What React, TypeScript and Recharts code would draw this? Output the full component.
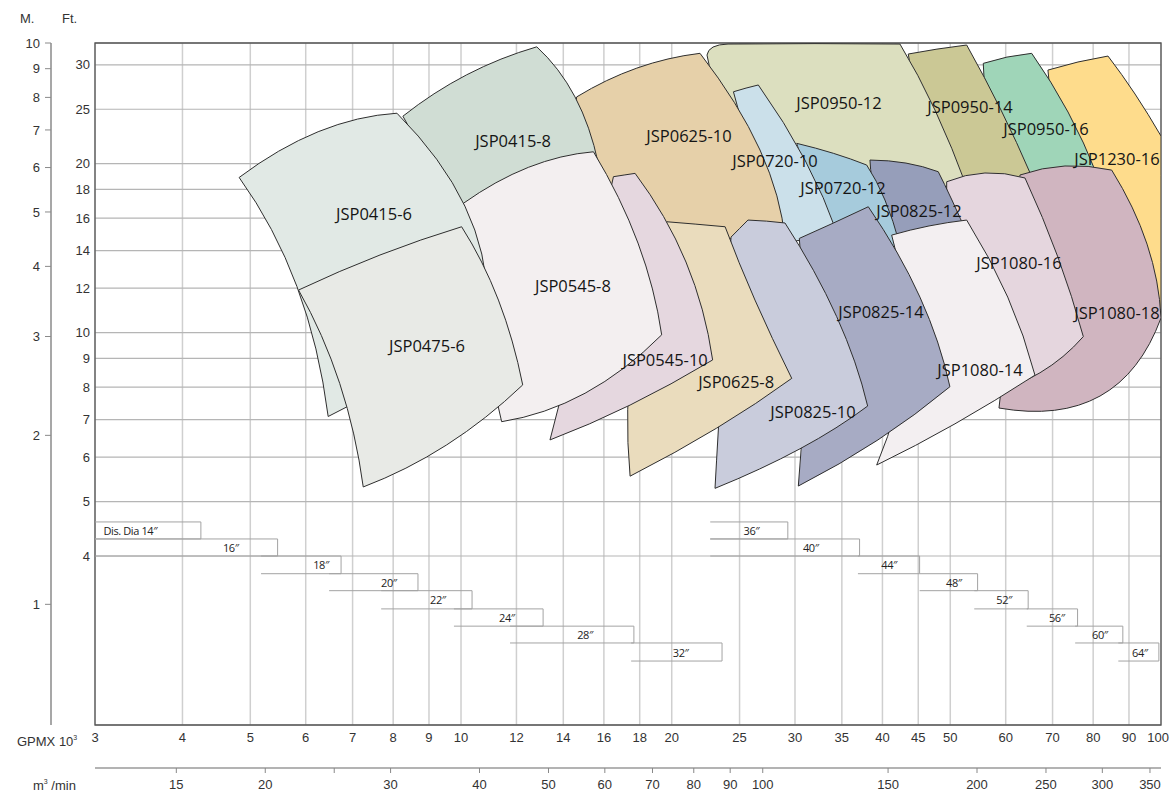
import React from 'react';
import { ScatterChart, Scatter, XAxis, YAxis, CartesianGrid, ReferenceArea, Customized } from 'recharts';

// ---------- axes ----------
const gpmTicks = [3, 4, 5, 6, 7, 8, 9, 10, 12, 14, 16, 18, 20, 25, 30, 35, 40, 45, 50, 60, 70, 80, 90, 100];
const ftTicks = [4, 5, 6, 7, 8, 9, 10, 12, 14, 16, 18, 20, 25, 30];
const meterTicks = [1, 2, 3, 4, 5, 6, 7, 8, 9, 10];
const m3Ticks = [15, 20, 25, 30, 40, 50, 60, 70, 80, 90, 100, 150, 200, 250, 300, 350];
const m3Unlabeled = [25];

const gpmDomain: [number, number] = [3, 100];
const ftDomain: [number, number] = [2.0, 32.81];
const meterDomain: [number, number] = [0.6096, 10.0];
const m3Domain: [number, number] = [11.53, 362.7];

// ---------- pump coverage outlines ----------
// [GPM x10^3, head ft]: corner, edge-middle, corner, edge-middle, ...
const JSP1230_16 = [[68.94, 29.36], [76.1, 30.35], [84.0, 31.1], [91.82, 26.61], [100, 22.4], [100, 16.0], [100, 10.97], [90.3, 12.16], [79.17, 13.47], [72.2, 20.3]];
const JSP0950_16 = [[55.73, 30.18], [60.25, 30.97], [65.35, 31.45], [73.65, 24.72], [81.03, 19.09], [72.44, 18.86], [64.98, 18.7], [57.91, 23.92]];
const JSP0950_14 = [[43.54, 31.36], [47.86, 32.0], [52.77, 32.54], [59.08, 24.92], [65.2, 19.09], [56.96, 18.32], [50.77, 17.95], [46.0, 23.92]];
const JSP0950_12 = [[22.46, 31.23], [22.91, 32.27], [24.07, 32.67], [32.04, 32.73], [42.37, 32.67], [47.55, 24.92], [52.99, 17.95], [39.67, 19.09], [29.51, 21.15], [24.23, 25.96]];
const JSP1080_18 = [[62.88, 19.09], [72.92, 19.81], [85.03, 19.48], [95.51, 14.38], [100, 10.62], [81.82, 7.71], [58.69, 7.34], [60.84, 11.43]];
const JSP1080_16 = [[49.41, 18.57], [56.04, 19.25], [63.93, 18.86], [71.23, 13.64], [77.45, 9.84], [67.14, 8.48], [56.04, 7.74], [50.77, 11.91]];
const JSP0825_12 = [[38.39, 20.3], [43.22, 20.05], [48.06, 19.35], [50.27, 17.23], [53.34, 14.62], [47.55, 14.32], [42.37, 14.32], [39.41, 17.23]];
const JSP0720_12 = [[30.17, 21.74], [34.03, 20.87], [37.98, 19.89], [40.33, 17.23], [42.37, 14.32], [38.14, 14.03], [34.22, 14.32], [31.73, 17.95]];
const JSP1080_14 = [[41.23, 14.92], [46.62, 15.49], [52.77, 15.87], [60.4, 11.57], [66.06, 8.4], [50.78, 6.88], [39.25, 5.81], [43.08, 9.31]];
const JSP0720_10 = [[24.5, 26.86], [25.54, 27.27], [26.59, 27.62], [31.0, 20.3], [34.55, 14.92], [31.52, 14.62], [28.84, 14.62], [26.3, 19.89]];
const JSP0825_14 = [[30.43, 14.72], [34.05, 15.68], [38.18, 16.76], [45.25, 11.57], [49.94, 8.01], [39.41, 6.44], [30.33, 5.33], [31.0, 8.94]];
const JSP0625_10 = [[14.63, 26.3], [17.83, 29.6], [21.95, 31.45], [26.74, 21.15], [29.03, 14.62], [22.83, 14.74], [18.02, 15.11], [15.04, 20.3]];
const JSP0825_10 = [[24.31, 14.8], [25.0, 15.33], [25.7, 15.87], [27.32, 15.8], [29.03, 15.68], [34.41, 10.68], [38.1, 7.4], [30.5, 6.21], [23.06, 5.28], [23.6, 8.58]];
const JSP0625_8 = [[19.68, 15.76], [21.6, 15.61], [23.84, 15.44], [26.3, 11.43], [29.68, 8.29], [23.19, 6.76], [17.44, 5.55], [17.61, 9.5]];
const JSP0545_10 = [[16.51, 18.96], [17.1, 19.09], [17.73, 19.22], [20.96, 13.36], [22.88, 8.94], [17.44, 7.43], [13.4, 6.44], [15.04, 11.43]];
const JSP0415_8 = [[8.26, 24.3], [10.19, 28.8], [12.83, 32.3], [14.55, 26.3], [15.71, 20.0], [12.72, 18.0], [10.3, 16.2], [9.03, 20.3]];
const JSP0545_8 = [[10.08, 17.0], [12.48, 19.7], [15.46, 21.0], [17.9, 14.44], [19.35, 9.91], [15.04, 7.8], [11.43, 6.94], [10.58, 10.97]];
const JSP0415_6 = [[4.82, 18.9], [6.25, 22.8], [8.1, 24.6], [10.13, 16.8], [10.9, 11.3], [8.6, 8.76], [6.46, 7.09], [5.83, 12.08]];
const JSP0475_6 = [[5.86, 11.91], [7.66, 13.75], [10.02, 15.44], [11.31, 11.43], [12.25, 8.07], [9.54, 6.31], [7.25, 5.31], [6.71, 8.12]];

// drawing order, back to front
const outlineNames = ['JSP1230-16', 'JSP0950-16', 'JSP0950-14', 'JSP0950-12', 'JSP1080-18', 'JSP1080-16', 'JSP0825-12', 'JSP0720-12', 'JSP1080-14', 'JSP0720-10', 'JSP0825-14', 'JSP0625-10', 'JSP0825-10', 'JSP0625-8', 'JSP0545-10', 'JSP0415-8', 'JSP0545-8', 'JSP0415-6', 'JSP0475-6'];
const outlines = [JSP1230_16, JSP0950_16, JSP0950_14, JSP0950_12, JSP1080_18, JSP1080_16, JSP0825_12, JSP0720_12, JSP1080_14, JSP0720_10, JSP0825_14, JSP0625_10, JSP0825_10, JSP0625_8, JSP0545_10, JSP0415_8, JSP0545_8, JSP0415_6, JSP0475_6];

// model labels
const labelNames = ['JSP0415-6', 'JSP0475-6', 'JSP0415-8', 'JSP0545-8', 'JSP0625-10', 'JSP0950-12', 'JSP0950-14', 'JSP0950-16', 'JSP1230-16', 'JSP0720-10', 'JSP0720-12', 'JSP0825-12', 'JSP1080-16', 'JSP1080-18', 'JSP0825-14', 'JSP1080-14', 'JSP0545-10', 'JSP0625-8', 'JSP0825-10'];
const labelQ = [7.51, 8.94, 11.87, 14.45, 21.17, 34.67, 53.34, 68.49, 86.52, 28.09, 35.13, 45.1, 62.67, 86.52, 39.8, 55.12, 19.57, 24.72, 31.83];
const labelH = [16.32, 9.47, 22.03, 12.11, 22.49, 25.75, 25.33, 23.15, 20.47, 20.3, 18.17, 16.53, 13.31, 10.84, 10.92, 8.61, 8.94, 8.17, 7.25];

// discharge diameter boxes
const diaLabels = ['Dis. Dia 14″', '16″', '18″', '20″', '22″', '24″', '28″', '32″', '36″', '40″', '44″', '48″', '52″', '56″', '60″', '64″'];
const diaFrom = [3, 3, 5.18, 6.48, 7.69, 9.77, 11.75, 17.5, 22.7, 22.7, 36.9, 45.2, 54.1, 64.3, 75.4, 86.9];
const diaTo = [4.25, 5.47, 6.74, 8.68, 10.37, 13.1, 17.66, 23.6, 29.3, 37.1, 45.2, 54.7, 64.6, 76.0, 88.2, 99.3];
const diaLabelAt = [3.37, 4.69, 6.31, 7.89, 9.27, 11.63, 15.04, 20.6, 26.0, 31.6, 40.9, 50.6, 59.7, 71.0, 81.8, 93.3];
const diaRow = [0, 1, 2, 3, 4, 5, 6, 7, 0, 1, 2, 3, 4, 5, 6, 7];
const diaRowHeads = [4.6, 4.29, 4.0, 3.72, 3.47, 3.22, 3.0, 2.8, 2.6];

// ---------- styles ----------
const FILLS: Record<string, string> = {
  'JSP0415-6': '#e1e9e5',
  'JSP0475-6': '#e8eae6',
  'JSP0415-8': '#d0ddd4',
  'JSP0545-8': '#f3eff0',
  'JSP0545-10': '#e5d7df',
  'JSP0625-10': '#e6d0a9',
  'JSP0625-8': '#eadcbd',
  'JSP0825-10': '#c9ccdc',
  'JSP0825-14': '#a7abc4',
  'JSP1080-14': '#f3eff1',
  'JSP0720-10': '#cbe0ea',
  'JSP0720-12': '#a6cbdc',
  'JSP0825-12': '#969eba',
  'JSP0950-12': '#dcdfbf',
  'JSP0950-14': '#cbc895',
  'JSP0950-16': '#9fd5b8',
  'JSP1230-16': '#fedc8c',
  'JSP1080-16': '#e5d6de',
  'JSP1080-18': '#d0b5c0',
};
const AXIS_FONT = "'Liberation Sans', Arial, sans-serif";
const LABEL_FONT = "'Open Sans', 'Noto Sans', sans-serif";

type Pt = { q: number; h: number };
const toPts = (arr: number[][]): Pt[] => arr.map(([q, h]) => ({ q, h }));

const shapes = outlineNames.map((name, i) => ({ name, data: toPts(outlines[i]) }));
const labelData = labelNames.map((name, i) => ({ name, q: labelQ[i], h: labelH[i] }));
const diaBoxes = diaLabels.map((label, i) => {
  const top = diaRowHeads[diaRow[i]];
  const bot = diaRowHeads[diaRow[i] + 1];
  return {
    label,
    data: [
      { q: diaFrom[i], h: top },
      { q: diaTo[i], h: top },
      { q: diaTo[i], h: bot },
      { q: diaFrom[i], h: bot },
      { q: diaLabelAt[i], h: Math.sqrt(top * bot) },
    ],
  };
});

function outlinePath(points: { x: number; y: number }[]) {
  if (!points || points.length < 2) return '';
  const n = points.length;
  let d = `M${points[0].x},${points[0].y}`;
  for (let i = 0; i < n; i += 2) {
    const a = points[i];
    const m = points[(i + 1) % n];
    const b = points[(i + 2) % n];
    const cx = 2 * m.x - (a.x + b.x) / 2;
    const cy = 2 * m.y - (a.y + b.y) / 2;
    d += ` Q${cx},${cy} ${b.x},${b.y}`;
  }
  return d + ' Z';
}

const makeOutline = (fill: string) => (props: any) => (
  <path d={outlinePath(props.points)} fill={fill} stroke="#2e2e2e" strokeWidth={1} strokeLinejoin="round" />
);

const makeBox = (label: string) => (props: any) => {
  const p = props.points;
  if (!p || p.length < 5) return <g />;
  const poly = `${p[0].x},${p[0].y} ${p[1].x},${p[1].y} ${p[2].x},${p[2].y} ${p[3].x},${p[3].y}`;
  return (
    <g>
      <polyline points={poly} fill="none" stroke="#a3a3a3" strokeWidth={1} />
      <text
        x={p[4].x}
        y={p[4].y}
        textAnchor="middle"
        dominantBaseline="central"
        fontFamily={LABEL_FONT}
        fontSize={11}
        letterSpacing={-0.4}
        fill="#222"
      >
        {label}
      </text>
    </g>
  );
};

const NoPoint = () => null;

const ModelLabel = (props: any) => (
  <text
    x={props.cx}
    y={props.cy}
    textAnchor="middle"
    dominantBaseline="central"
    fontFamily={LABEL_FONT}
    fontSize={16.5}
    fill="#151515"
  >
    {props.payload.name}
  </text>
);

const GpmTick = (props: any) => {
  const { x, y, payload } = props;
  const last = payload.value === gpmDomain[1];
  return (
    <text
      x={last ? x + 8 : x}
      y={y}
      dy="0.71em"
      textAnchor={last ? 'end' : 'middle'}
      fontFamily={AXIS_FONT}
      fontSize={13}
      fill="#333"
    >
      {payload.value}
    </text>
  );
};

const AxisTitles = () => (
  <g fontFamily={AXIS_FONT} fontSize={13} fill="#333">
    <text x={20} y={23}>M.</text>
    <text x={62} y={23}>Ft.</text>
    <text x={17} y={746}>
      GPMX 10<tspan fontSize={7} dy={-6}>3</tspan>
    </text>
    <text x={33} y={790}>
      m<tspan fontSize={7} dy={-6}>3</tspan>
      <tspan dy={6}> /min</tspan>
    </text>
  </g>
);

const tickStyle = { fontFamily: AXIS_FONT, fontSize: 13, fill: '#333' };

export default function App() {
  return (
    <div style={{ position: 'absolute', left: 0, top: 0, width: 1170, height: 795, background: '#fff' }}>
      <ScatterChart width={1170} height={795} margin={{ top: 43, right: 9, bottom: 0, left: 0 }}>
        <XAxis
          xAxisId="gpm"
          dataKey="q"
          type="number"
          scale="log"
          domain={gpmDomain}
          allowDataOverflow
          ticks={gpmTicks}
          interval={0}
          height={43}
          axisLine={false}
          tickLine={false}
          tickSize={0}
          tickMargin={8}
          tick={<GpmTick />}
        />
        <XAxis
          xAxisId="m3"
          dataKey="m3"
          type="number"
          scale="log"
          domain={m3Domain}
          allowDataOverflow
          ticks={m3Ticks}
          interval={0}
          height={27}
          axisLine={{ stroke: '#9a9a9a', strokeWidth: 1.3 }}
          tickLine={{ stroke: '#888' }}
          tickSize={5}
          tickMargin={7}
          tick={tickStyle}
          tickFormatter={(v: number) => (m3Unlabeled.includes(v) ? '' : String(v))}
        />
        <YAxis
          yAxisId="ft"
          dataKey="h"
          type="number"
          scale="log"
          domain={ftDomain}
          allowDataOverflow
          ticks={ftTicks}
          interval={0}
          width={44}
          axisLine={false}
          tickLine={false}
          tickSize={0}
          tickMargin={5}
          tick={tickStyle}
        />
        <YAxis
          yAxisId="m"
          type="number"
          scale="log"
          domain={meterDomain}
          allowDataOverflow
          ticks={meterTicks}
          interval={0}
          width={51}
          axisLine={{ stroke: '#8a8a8a', strokeWidth: 1.5 }}
          tickLine={{ stroke: '#8a8a8a' }}
          tickSize={6}
          tickMargin={5}
          tick={tickStyle}
        />
        <CartesianGrid xAxisId="gpm" yAxisId="ft" horizontal={false} stroke="#cfcfcf" strokeWidth={1.5} />
        <CartesianGrid xAxisId="gpm" yAxisId="ft" vertical={false} stroke="#b5b5b5" strokeWidth={1.2} />

        {shapes.map((s) => (
          <Scatter
            key={s.name}
            name={s.name}
            xAxisId="gpm"
            yAxisId="ft"
            data={s.data}
            line={makeOutline(FILLS[s.name])}
            lineType="joint"
            shape={NoPoint}
            isAnimationActive={false}
          />
        ))}

        {diaBoxes.map((b) => (
          <Scatter
            key={b.label}
            xAxisId="gpm"
            yAxisId="ft"
            data={b.data}
            line={makeBox(b.label)}
            lineType="joint"
            shape={NoPoint}
            isAnimationActive={false}
          />
        ))}

        <Scatter
          xAxisId="gpm"
          yAxisId="ft"
          data={labelData}
          shape={ModelLabel}
          isAnimationActive={false}
        />

        <ReferenceArea
          xAxisId="gpm"
          yAxisId="ft"
          x1={gpmDomain[0]}
          x2={gpmDomain[1]}
          y1={ftDomain[0]}
          y2={ftDomain[1]}
          fill="none"
          fillOpacity={0}
          stroke="#555"
          strokeWidth={1.3}
          ifOverflow="visible"
        />
        <Customized component={<AxisTitles />} />
      </ScatterChart>
    </div>
  );
}
